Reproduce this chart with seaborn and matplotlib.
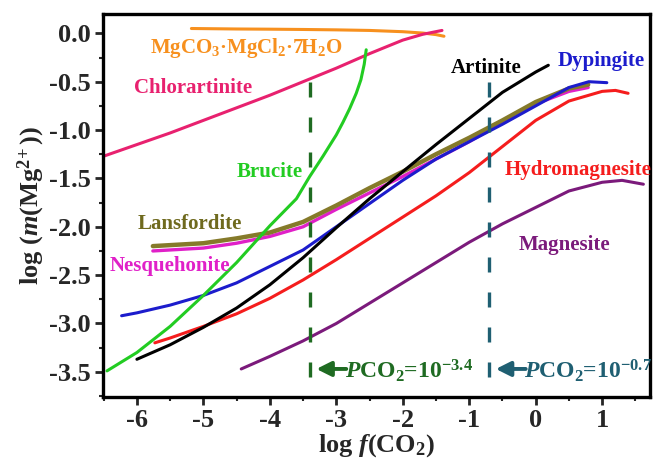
import numpy as np
import pandas as pd
import matplotlib
matplotlib.use("Agg")
import matplotlib.pyplot as plt
import seaborn as sns

# ---- solubility curves: log f(CO2) vs log m(Mg2+) ----
mgcl_x = [-5.18, -4.5, -4.0, -3.5, -3.0, -2.5, -2.0, -1.7, -1.5, -1.38]
mgcl_y = [0.05, 0.045, 0.043, 0.04, 0.036, 0.03, 0.017, 0.003, -0.013, -0.03]

chlor_x = [-6.5, -6.0, -5.5, -5.0, -4.5, -4.0, -3.5, -3.0, -2.5, -2.0, -1.7, -1.41]
chlor_y = [-1.27, -1.15, -1.03, -0.90, -0.77, -0.64, -0.50, -0.36, -0.21, -0.07, -0.01, 0.03]

bruc_x = [-6.45, -6.0, -5.5, -5.0, -4.5, -4.0, -3.6, -3.4, -3.2, -3.0, -2.9, -2.8,
          -2.7, -2.63, -2.58, -2.55]
bruc_y = [-3.49, -3.30, -3.03, -2.71, -2.37, -1.99, -1.71, -1.48, -1.27, -1.05, -0.92,
          -0.78, -0.62, -0.48, -0.32, -0.17]

lans_x = [-5.76, -5.0, -4.5, -4.0, -3.5, -3.0, -2.5, -2.0, -1.5, -1.0, -0.5, 0.0, 0.5, 0.79]
lans_y = [-2.20, -2.17, -2.12, -2.06, -1.95, -1.78, -1.60, -1.43, -1.25, -1.08, -0.90, -0.71, -0.57, -0.53]

nesq_x = [-5.76, -5.0, -4.5, -4.0, -3.5, -3.0, -2.5, -2.0, -1.5, -1.0, -0.5, 0.0, 0.5, 0.79]
nesq_y = [-2.25, -2.22, -2.17, -2.10, -2.00, -1.82, -1.65, -1.48, -1.30, -1.12, -0.92, -0.73, -0.60, -0.56]

dyp_x = [-6.23, -6.0, -5.5, -5.0, -4.5, -4.0, -3.5, -3.0, -2.5, -2.0, -1.5, -1.0, -0.5,
         0.0, 0.5, 0.8, 1.07]
dyp_y = [-2.92, -2.89, -2.81, -2.71, -2.58, -2.41, -2.24, -2.00, -1.76, -1.52, -1.30,
         -1.12, -0.94, -0.75, -0.56, -0.50, -0.51]

art_x = [-6.0, -5.5, -5.0, -4.5, -4.0, -3.5, -3.0, -2.5, -2.0, -1.5, -1.0, -0.5, 0.0, 0.19]
art_y = [-3.37, -3.22, -3.04, -2.84, -2.60, -2.32, -2.01, -1.71, -1.43, -1.15, -0.88,
         -0.61, -0.40, -0.33]

hydro_x = [-5.73, -5.5, -5.0, -4.5, -4.0, -3.5, -3.0, -2.5, -2.0, -1.5, -1.0, -0.5, 0.0,
           0.5, 1.0, 1.2, 1.39]
hydro_y = [-3.20, -3.15, -3.03, -2.90, -2.74, -2.55, -2.34, -2.12, -1.90, -1.68, -1.44,
           -1.17, -0.90, -0.70, -0.60, -0.59, -0.62]

magn_x = [-4.43, -4.0, -3.5, -3.0, -2.5, -2.0, -1.5, -1.0, -0.5, 0.0, 0.5, 1.0, 1.3, 1.62]
magn_y = [-3.47, -3.34, -3.18, -3.00, -2.79, -2.58, -2.37, -2.16, -1.97, -1.80, -1.63,
          -1.54, -1.52, -1.56]

# atmospheric and elevated CO2 levels (log pCO2)
pco2_levels = [-3.4, -0.7]
pco2_labels = [r"$P\mathrm{CO_2}$=10$^{-3.4}$", r"$P\mathrm{CO_2}$=10$^{-0.7}$"]

x_ticks = [-6, -5, -4, -3, -2, -1, 0, 1]
y_ticks = [0.0, -0.5, -1.0, -1.5, -2.0, -2.5, -3.0, -3.5]

sns.set_style("ticks")
plt.rcParams["font.family"] = ["Liberation Serif", "DejaVu Serif"]
plt.rcParams["font.weight"] = "bold"
plt.rcParams["mathtext.fontset"] = "custom"
plt.rcParams["mathtext.rm"] = "Liberation Serif:bold"
plt.rcParams["mathtext.it"] = "Liberation Serif:italic:bold"
plt.rcParams["mathtext.bf"] = "Liberation Serif:bold"
plt.rcParams["axes.unicode_minus"] = False

fig = plt.figure(figsize=(6.54, 4.62), dpi=100)
ax = fig.add_axes([0.1575, 0.1407, 0.8364, 0.829])

series = [
    ("MgCO3·MgCl2·7H2O", mgcl_x, mgcl_y, "#f7901e", 2.2),
    ("Chlorartinite", chlor_x, chlor_y, "#e8216f", 2.2),
    ("Nesquehonite", nesq_x, nesq_y, "#e020c8", 2.4),
    ("Lansfordite", lans_x, lans_y, "#857a2a", 3.2),
    ("Dypingite", dyp_x, dyp_y, "#1c1ccc", 2.2),
    ("Hydromagnesite", hydro_x, hydro_y, "#f51d1d", 2.2),
    ("Artinite", art_x, art_y, "#000000", 2.2),
    ("Magnesite", magn_x, magn_y, "#7b1a7b", 2.2),
    ("Brucite", bruc_x, bruc_y, "#22cc22", 2.2),
]

for name, xs, ys, col, lw in series:
    df = pd.DataFrame({"logf": xs, "logm": ys})
    sns.lineplot(data=df, x="logf", y="logm", ax=ax, color=col, lw=lw,
                 sort=False, estimator=None)

ax.set_xlim(-6.51, 1.72)
ax.set_ylim(-3.76, 0.2)

# pCO2 markers
line_cols = ["#1f6b22", "#1f5f72"]
for lvl, lab, col in zip(pco2_levels, pco2_labels, line_cols):
    ax.plot([lvl, lvl], [-0.5, -3.76], color=col, lw=2.4, dashes=(4.5, 6.0))
    ax.annotate("", xy=(lvl + 0.1, -3.47), xytext=(lvl + 0.55, -3.47),
                arrowprops=dict(arrowstyle="-|>", color=col, lw=2.8,
                                mutation_scale=22, shrinkA=0, shrinkB=0))
    ax.text(lvl + 0.53, -3.49, lab, color=col, fontsize=17, ha="left",
            va="center", clip_on=False)

# curve labels
labels = [
    ("MgCO$_3$·MgCl$_2$·7H$_2$O", -5.8, -0.15, "#f7901e"),
    ("Chlorartinite", -5.16, -0.56, "#e8216f"),
    ("Brucite", -4.0, -1.43, "#22cc22"),
    ("Lansfordite", -5.2, -1.97, "#6f6a1e"),
    ("Nesquehonite", -5.5, -2.41, "#e020c8"),
    ("Artinite", -0.74, -0.36, "#000000"),
    ("Dypingite", 0.98, -0.29, "#1c1ccc"),
    ("Hydromagnesite", 0.64, -1.41, "#f51d1d"),
    ("Magnesite", 0.44, -2.19, "#7b1a7b"),
]
for txt, lx, ly, col in labels:
    ha = "left" if txt.startswith("MgCO") else "center"
    ax.text(lx, ly, txt, color=col, fontsize=15, ha=ha, va="center")

ax.set_xticks(x_ticks)
ax.set_xticklabels([str(t) for t in x_ticks])
ax.set_yticks(y_ticks)
ax.set_yticklabels([f"{t:.1f}" for t in y_ticks])
ax.set_xticks(np.arange(-6.5, 1.75, 0.5), minor=True)
ax.set_yticks(np.arange(-3.75, 0.2, 0.25), minor=True)
ax.tick_params(axis="both", which="major", direction="out", length=6, width=2,
               labelsize=19, pad=3)
ax.tick_params(axis="both", which="minor", direction="out", length=3, width=1.5)
for lab in ax.get_xticklabels() + ax.get_yticklabels():
    lab.set_fontweight("bold")

for sp in ax.spines.values():
    sp.set_visible(True)
    sp.set_linewidth(2.4)
    sp.set_color("black")

ax.set_xlabel(r"log $f$(CO$_2$)", fontsize=19, fontweight="bold", labelpad=0)
ax.set_ylabel(r"log ($m$(Mg$^{2\!+}$))", fontsize=19, fontweight="bold", labelpad=1)

fig.savefig("out.png", dpi=100)
